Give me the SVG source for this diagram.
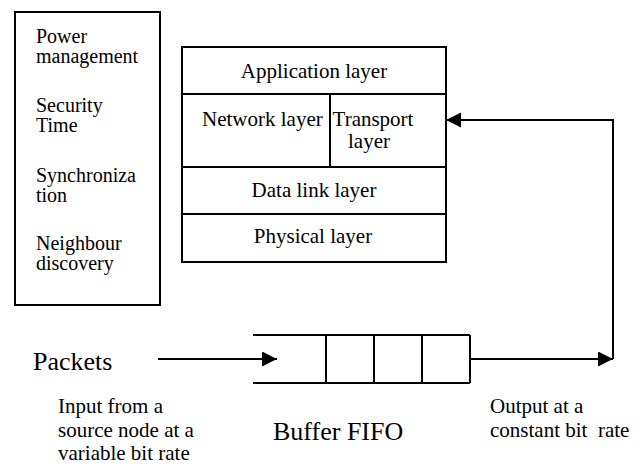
<svg xmlns="http://www.w3.org/2000/svg" width="640" height="471" viewBox="0 0 640 471">
<style>
.box{fill:#fff;stroke:#000;stroke-width:2}
.ln{stroke:#000;stroke-width:2;fill:none}
.t{font-family:'Liberation Serif','Times New Roman',serif;fill:#000;font-size:21px}
.s20{font-size:20px}
.big{font-size:26px}
.c{text-anchor:middle}
</style>
<defs>
<marker id="ah" markerWidth="16" markerHeight="16" refX="15" refY="7.5" orient="auto" markerUnits="userSpaceOnUse">
<path d="M0,0 L15,7.5 L0,15 Z" fill="#000"/>
</marker>
</defs>
<rect width="640" height="471" fill="#fff"/>
<g id="services" class="t s20">
<rect class="box" x="15" y="12" width="145" height="293"/>
<text x="36" y="43">Power</text>
<text x="36" y="63">management</text>
<text x="36" y="112">Security</text>
<text x="36" y="132">Time</text>
<text x="36" y="182">Synchroniza</text>
<text x="36" y="202">tion</text>
<text x="36" y="250">Neighbour</text>
<text x="36" y="270">discovery</text>
</g>
<g id="stack">
<rect class="box" x="182" y="47" width="264" height="215"/>
<line class="ln" x1="182" y1="94" x2="446" y2="94"/>
<line class="ln" x1="182" y1="167" x2="446" y2="167"/>
<line class="ln" x1="182" y1="214" x2="446" y2="214"/>
<line class="ln" x1="330" y1="94" x2="330" y2="167"/>
</g>
<g id="application" class="t"><text class="c" x="314" y="78">Application layer</text></g>
<g id="network" class="t"><text x="202" y="126">Network layer</text></g>
<g id="transport" class="t"><text class="c" x="373" y="126">Transport</text><text class="c" x="369" y="148">layer</text></g>
<g id="datalink" class="t"><text class="c" x="314" y="197">Data link layer</text></g>
<g id="physical" class="t"><text class="c" x="313" y="243">Physical layer</text></g>
<g id="buffer" class="t">
<line class="ln" x1="253" y1="335" x2="470" y2="335"/>
<line class="ln" x1="253" y1="383" x2="470" y2="383"/>
<line class="ln" x1="326" y1="335" x2="326" y2="383"/>
<line class="ln" x1="374" y1="335" x2="374" y2="383"/>
<line class="ln" x1="422" y1="335" x2="422" y2="383"/>
<line class="ln" x1="470" y1="335" x2="470" y2="383"/>
<text class="big" x="273" y="440">Buffer FIFO</text>
</g>
<g id="packets" class="t">
<text class="big" x="33" y="370">Packets</text>
</g>
<g id="input-label" class="t">
<text x="58" y="413">Input from a</text>
<text x="58" y="437">source node at a</text>
<text x="58" y="460">variable bit rate</text>
</g>
<g id="output-label" class="t">
<text x="490" y="413">Output at a</text>
<text x="490" y="437" xml:space="preserve">constant bit  rate</text>
</g>
<g id="connectors">
<line class="ln" x1="158" y1="359" x2="277" y2="359" marker-end="url(#ah)"/>
<line class="ln" x1="470" y1="359" x2="613" y2="359" marker-end="url(#ah)"/>
<polyline class="ln" points="613,359 613,120 446,120" marker-end="url(#ah)"/>
</g>
</svg>
